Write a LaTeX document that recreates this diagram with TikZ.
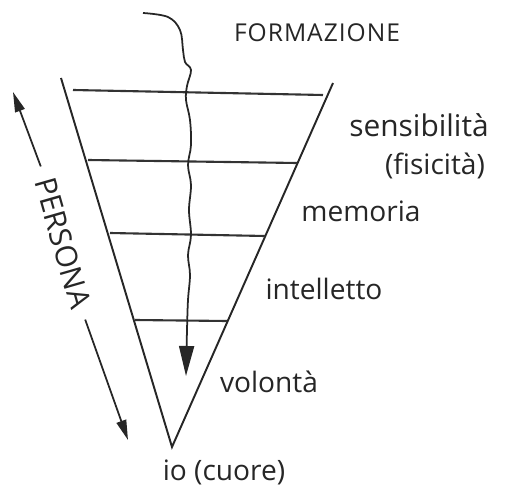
\documentclass[tikz,border=0pt]{standalone}
\usepackage{fontspec}
\setmainfont{Open Sans}
\usetikzlibrary{positioning,arrows.meta,calc}

\begin{document}
\begin{tikzpicture}[
  x=0.2mm, y=-0.2mm,
  >={Triangle[length=4mm,width=2mm]},
  edge/.style={draw=black!85, line width=1.1pt},
  level/.style={draw=black!80, line width=1.2pt},
  pointer/.style={draw=black!85, line width=1pt, shorten <=2pt},
  % Labels on the right of the cone
  lbl/.style={font=\fontsize{16}{18}\selectfont, text=black!85, inner sep=1pt},
  title/.style={font=\fontsize{14}{16}\selectfont\addfontfeature{LetterSpace=4}, text=black!85},
  side/.style={font=\fontsize{17}{19}\selectfont, text=black!85, rotate=-74, inner sep=5pt}
]
\useasboundingbox (0,0) rectangle (516,493);

% ---------- Cone ----------
\coordinate (top left) at (61,78);
\coordinate (top right) at (333,83);
\coordinate (apex) at (172,447);
\draw[edge] (top left) -- (apex) -- (top right);

% ---------- Levels ----------
\foreach \xa/\ya/\xb/\yb in {73/90/323/95, 88/160/297/163, 110/233/265/236, 135/320/227/321}
  \draw[level] (\xa,\ya) -- (\xb,\yb);

% ---------- Labels ----------
\node[title] (form) at (317,33) {FORMAZIONE};
\node[lbl, font=\fontsize{17}{19}\selectfont] (sens) at (419,125) {sensibilità};
\node[lbl] (fis) at (435,166) {(fisicità)};
\node[lbl] (mem) at (361,211) {memoria};
\node[lbl] (intel) at (324,289) {intelletto};
\node[lbl] (vol) at (269,382) {volontà};
\node[lbl] (io) at (224,472) {io (cuore)};

% ---------- Formazione: the wavy arrow going down ----------
\draw[edge, line width=1pt, ->, >={Triangle[length=6mm,width=3mm]}]
  plot[smooth, tension=0.6] coordinates {(143,13) (168,17) (180,30) (183,50) (185,62)
    (191,70) (187,86) (186,100) (190,120) (191,145) (188,165) (191,185)
    (189,210) (191,235) (188,255) (190,275) (188,300) (187,330) (186,376)};

% ---------- Persona ----------
\node[side] (persona) at (63,243) {PERSONA};
\coordinate (up) at (13,92);
\coordinate (down) at (128,440);
\draw[pointer, ->] (persona.west) -- (up);
\draw[pointer, ->] (persona.east) -- (down);

\end{tikzpicture}
\end{document}
